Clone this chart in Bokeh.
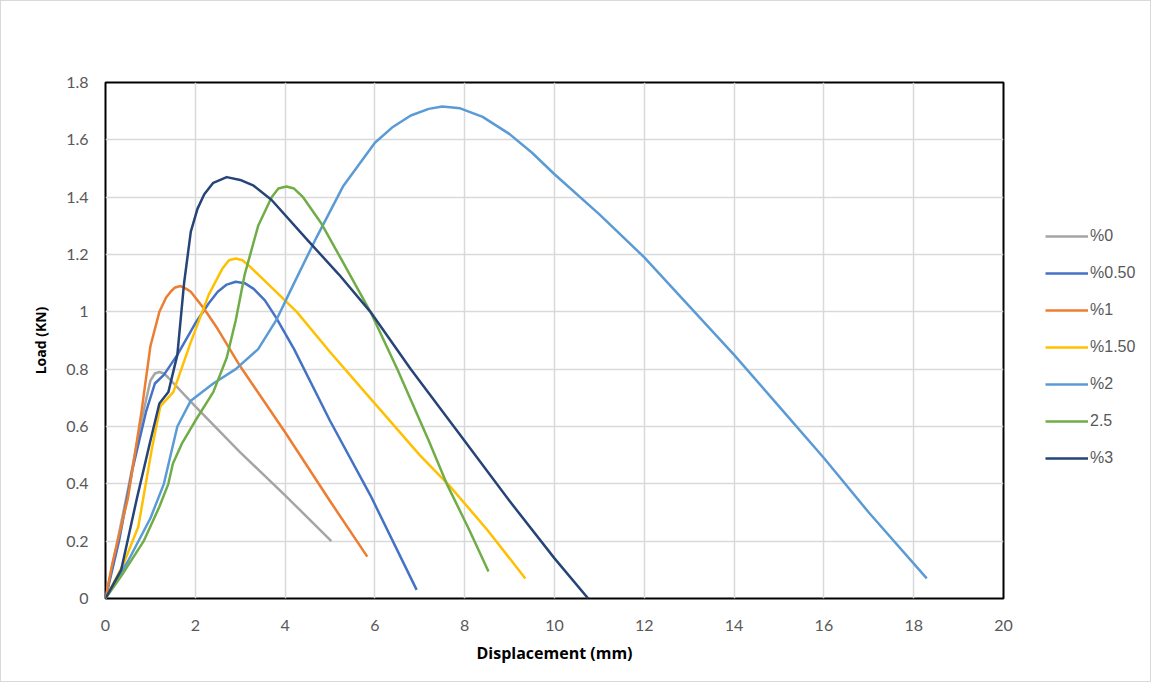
from bokeh.plotting import figure
from bokeh.models import Legend, LegendItem, FixedTicker
from bokeh.layouts import row
from bokeh.embed import file_html
from bokeh.resources import INLINE

# ---------------- data ----------------
labels = ["%0", "%0.50", "%1", "%1.50", "%2", "2.5", "%3"]
colors = ["#A5A5A5", "#4472C4", "#ED7D31", "#FFC000", "#5B9BD5", "#70AD47", "#264478"]

x_p0 = [0, 0.2, 0.5, 0.8, 1.0, 1.1, 1.2, 1.3, 1.4, 2.0, 3.0, 4.0, 5.03]
y_p0 = [0, 0.15, 0.38, 0.62, 0.76, 0.785, 0.79, 0.785, 0.77, 0.67, 0.51, 0.36, 0.20]

x_p050 = [0, 0.3, 0.6, 0.9, 1.1, 1.3, 1.6, 2.0, 2.3, 2.5, 2.7, 2.9, 3.1, 3.3, 3.55, 3.8, 4.2, 5.0, 5.9, 6.93]
y_p050 = [0, 0.2, 0.45, 0.65, 0.75, 0.78, 0.85, 0.96, 1.03, 1.07, 1.095, 1.105, 1.10, 1.08, 1.04, 0.98, 0.87, 0.62, 0.36, 0.03]

x_p1 = [0, 0.15, 0.3, 0.5, 0.8, 1.0, 1.2, 1.35, 1.45, 1.55, 1.67, 1.8, 1.9, 2.2, 2.5, 3.0, 4.0, 5.0, 5.83]
y_p1 = [0, 0.12, 0.22, 0.35, 0.65, 0.88, 1.0, 1.05, 1.07, 1.085, 1.09, 1.08, 1.07, 1.01, 0.94, 0.81, 0.58, 0.34, 0.146]

x_p150 = [0, 0.4, 0.73, 1.03, 1.22, 1.51, 1.89, 2.3, 2.6, 2.75, 2.9, 3.05, 3.2, 3.6, 4.26, 5.0, 6.0, 7.0, 7.68, 8.5, 9.35]
y_p150 = [0, 0.12, 0.25, 0.52, 0.67, 0.72, 0.89, 1.06, 1.15, 1.18, 1.186, 1.18, 1.16, 1.1, 1.0, 0.86, 0.68, 0.5, 0.39, 0.24, 0.07]

x_p2 = [0, 0.5, 1.0, 1.3, 1.6, 1.9, 2.4, 2.9, 3.4, 3.8, 4.2, 4.7, 5.3, 6.0, 6.4, 6.8, 7.2, 7.5, 7.9, 8.4, 9.0, 9.5, 10, 11, 12, 13, 14, 15, 16, 17, 18.29]
y_p2 = [0, 0.13, 0.28, 0.40, 0.60, 0.69, 0.75, 0.80, 0.87, 0.97, 1.10, 1.26, 1.44, 1.59, 1.645, 1.685, 1.708, 1.716, 1.71, 1.68, 1.62, 1.555, 1.48, 1.34, 1.19, 1.02, 0.85, 0.67, 0.49, 0.30, 0.07]

x_p25 = [0, 0.4, 0.85, 1.2, 1.4, 1.5, 1.7, 2.0, 2.4, 2.7, 2.9, 3.1, 3.4, 3.7, 3.85, 4.03, 4.2, 4.4, 4.8, 5.3, 5.9, 6.5, 7.2, 7.6, 8.1, 8.53]
y_p25 = [0, 0.09, 0.20, 0.32, 0.40, 0.47, 0.54, 0.62, 0.72, 0.84, 0.97, 1.13, 1.30, 1.40, 1.43, 1.437, 1.43, 1.40, 1.31, 1.17, 1.0, 0.80, 0.55, 0.40, 0.24, 0.094]

x_p3 = [0, 0.35, 0.7, 1.0, 1.2, 1.4, 1.6, 1.75, 1.9, 2.05, 2.2, 2.4, 2.7, 3.0, 3.3, 3.7, 4.5, 5.2, 5.9, 6.8, 7.9, 9.0, 10.0, 10.75]
y_p3 = [0, 0.1, 0.35, 0.55, 0.68, 0.72, 0.85, 1.10, 1.28, 1.36, 1.41, 1.45, 1.47, 1.46, 1.44, 1.39, 1.25, 1.13, 1.0, 0.80, 0.57, 0.34, 0.14, 0.0]

x_ticks = [0, 2, 4, 6, 8, 10, 12, 14, 16, 18, 20]
x_tick_labels = ["0", "2", "4", "6", "8", "10", "12", "14", "16", "18", "20"]
y_ticks = [0, 0.2, 0.4, 0.6, 0.8, 1.0, 1.2, 1.4, 1.6, 1.8]
y_tick_labels = ["0", "0.2", "0.4", "0.6", "0.8", "1", "1.2", "1.4", "1.6", "1.8"]

series_x = [x_p0, x_p050, x_p1, x_p150, x_p2, x_p25, x_p3]
series_y = [y_p0, y_p050, y_p1, y_p150, y_p2, y_p25, y_p3]

# ---------------- main chart ----------------
p = figure(width=1014, height=680, x_range=(0, 20), y_range=(0, 1.8),
           output_backend="svg", toolbar_location=None,
           min_border_left=104, min_border_right=12, min_border_top=81, min_border_bottom=83)

p.outline_line_color = "#000000"
p.outline_line_width = 2

p.xaxis.ticker = FixedTicker(ticks=x_ticks)
p.yaxis.ticker = FixedTicker(ticks=y_ticks)
p.xaxis.major_label_overrides = {t: l for t, l in zip(x_ticks, x_tick_labels)}
p.yaxis.major_label_overrides = {t: l for t, l in zip(y_ticks, y_tick_labels)}

for ax in (p.xaxis, p.yaxis):
    ax.axis_line_color = None
    ax.major_tick_line_color = None
    ax.minor_tick_line_color = None
    ax.major_label_text_font = "Lato"
    ax.major_label_text_font_size = "16px"
    ax.major_label_text_color = "#595959"
    ax.axis_label_text_font = "Open Sans"
    ax.axis_label_text_font_style = "bold"
    ax.axis_label_text_color = "#000000"

p.xaxis.axis_label = "Displacement (mm)"
p.xaxis.axis_label_text_font_size = "16px"
p.xaxis.major_label_standoff = 15
p.xaxis.axis_label_standoff = 8
p.yaxis.axis_label = "Load (KN)"
p.yaxis.axis_label_text_font_size = "14px"
p.yaxis.major_label_standoff = 11
p.yaxis.axis_label_standoff = 13

p.xgrid.grid_line_color = "#D9D9D9"
p.ygrid.grid_line_color = "#D9D9D9"
p.xgrid.grid_line_width = 1.5
p.ygrid.grid_line_width = 1.5

for col, xs, ys in zip(colors, series_x, series_y):
    p.line(xs, ys, line_color=col, line_width=2.5, line_join="round")

# ---------------- legend panel ----------------
lg = figure(width=135, height=680, output_backend="svg", toolbar_location=None,
            min_border=0, x_range=(0, 1), y_range=(0, 1))
lg.axis.visible = False
lg.grid.visible = False
lg.outline_line_color = None

items = []
for lab, col in zip(labels, colors):
    # legend key only: the line sits outside the visible range of this panel
    r = lg.line(x=[-2, -1], y=[-2, -1], line_color=col, line_width=2.5)
    items.append(LegendItem(label=lab, renderers=[r]))

legend = Legend(items=items, location=(30, 130))
legend.background_fill_alpha = 0
legend.border_line_color = None
legend.padding = 0
legend.margin = 0
legend.glyph_width = 43
legend.glyph_height = 20
legend.label_height = 20
legend.spacing = 17
legend.label_standoff = 2
legend.label_text_font = "Liberation Sans"
legend.label_text_font_size = "16px"
legend.label_text_color = "#595959"
lg.add_layout(legend)

layout = row(p, lg)
layout.styles = {"border": "1px solid #d9d9d9"}

open("out.html", "w").write(file_html(layout, INLINE))
